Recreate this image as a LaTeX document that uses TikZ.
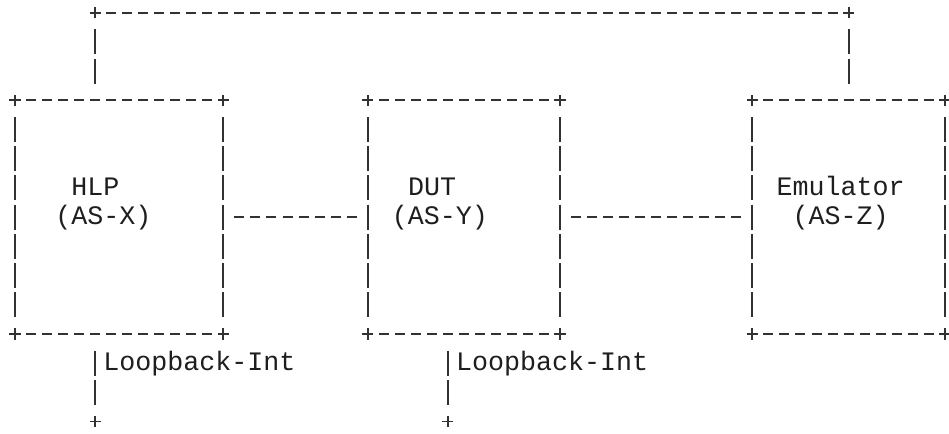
\documentclass[tikz,border=0pt]{standalone}
\usepackage{fontspec}
\newfontfamily\asciifont{Liberation Mono}
\definecolor{linec}{RGB}{50,50,50}
\definecolor{textc}{RGB}{30,30,30}
\begin{document}
\begin{tikzpicture}[x=12.0225pt,y=-21.9pt,
  ln/.style={draw=linec,line width=1.4pt},
  hd/.style={ln,dash pattern=on 7.5pt off 4.5225pt,shorten <=8.2725pt,shorten >=8.2725pt},
  vd/.style={ln,dash pattern=on 18.75pt off 3.15pt,shorten <=12.525pt,shorten >=12.525pt},
  box/.style={inner sep=0pt,outer sep=0pt,minimum height=175.2pt,minimum width=#1},
  lbl/.style={font=\asciifont\fontsize{20pt}{22pt}\selectfont,text=textc,inner sep=0pt,anchor=base west,yshift=-5.4pt},
  plusmark/.pic={\draw[ln] (-4.2pt,0pt)--(4.2pt,0pt) (0pt,-4.2pt)--(0pt,4.2pt);}
]
\useasboundingbox (-0.9357,-0.4349) rectangle (58.266,14.394);

% boxes
\node[box=156.2925pt] (hlp) at (6.5,7) {};
\node[box=144.27pt] (dut) at (28,7) {};
\node[box=144.27pt] (emu) at (52,7) {};

\foreach \b in {hlp,dut,emu}{
  \draw[hd] (\b.north west) -- (\b.north east);
  \draw[hd] (\b.south west) -- (\b.south east);
  \draw[vd] (\b.north west) -- (\b.south west);
  \draw[vd] (\b.north east) -- (\b.south east);
  \foreach \a in {north west,north east,south west,south east}
    \pic at (\b.\a) {plusmark};
}

% labels
\node[lbl] (hlpname) at (3.5,6) {HLP};
\node[lbl] (hlpas) at (2.5,7) {(AS-X)};
\node[lbl] (dutname) at (24.5,6) {DUT};
\node[lbl] (dutas) at (23.5,7) {(AS-Y)};
\node[lbl] (emuname) at (47.5,6) {Emulator};
\node[lbl] (emuas) at (48.5,7) {(AS-Z)};

% links between boxes
\draw[hd] (hlp.east) -- (dut.west);
\draw[hd] (dut.east) -- (emu.west);

% top link HLP -- Emulator
\coordinate (tl) at (5,0);
\coordinate (tr) at (52,0);
\draw[vd] (hlp.north -| tl) -- (tl);
\draw[hd] (tl) -- (tr);
\draw[vd] (tr) -- (emu.north -| tr);
\pic at (tl) {plusmark};
\pic at (tr) {plusmark};

% loopback interfaces
\coordinate (lb1) at (5,14);
\coordinate (lb2) at (27,14);
\draw[vd] (hlp.south -| lb1) -- (lb1);
\draw[vd] (dut.south -| lb2) -- (lb2);
\pic at (lb1) {plusmark};
\pic at (lb2) {plusmark};
\node[lbl] (lbl1) at (5.5,12) {Loopback-Int};
\node[lbl] (lbl2) at (27.5,12) {Loopback-Int};
\end{tikzpicture}
\end{document}
